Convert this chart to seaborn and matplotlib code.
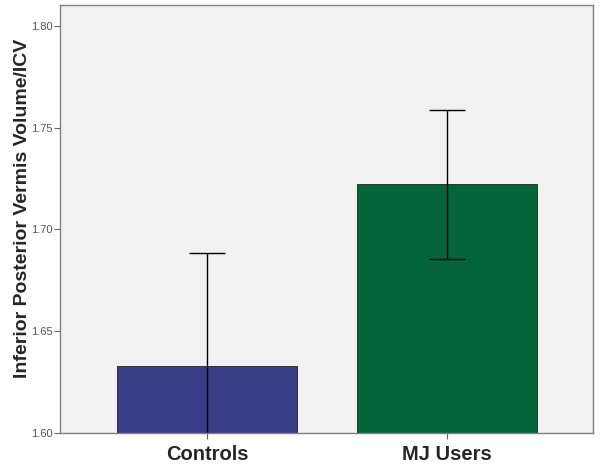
import pandas as pd
import seaborn as sns
import matplotlib.pyplot as plt

# group means and error bar half-widths
groups = ['Controls', 'MJ Users']
means = [1.633, 1.7222]
errors = [0.0552, 0.0366]
bar_colors = ['#393c87', '#05653a']
y_ticks = [1.60, 1.65, 1.70, 1.75, 1.80]


def main():
    sns.set_style('white')
    plt.rcParams['font.family'] = ['Liberation Sans', 'DejaVu Sans']

    df = pd.DataFrame({'group': groups, 'value': means})

    fig = plt.figure(figsize=(6, 4.69), dpi=100)
    ax = fig.add_axes([0.1, 0.077, 0.888, 0.912])
    ax.set_facecolor('#f1f1f1')

    sns.barplot(data=df, x='group', y='value', hue='group',
                palette=bar_colors, saturation=1, errorbar=None, width=0.75,
                edgecolor='#222222', linewidth=0.6, legend=False, ax=ax)
    ax.errorbar(range(len(groups)), means, yerr=errors, fmt='none',
                ecolor='black', elinewidth=1.0, capsize=13, capthick=1.0)

    ax.set_ylim(1.60, 1.8103)
    ax.set_xlim(-0.6125, 1.608)
    ax.set_yticks(y_ticks)
    ax.set_yticklabels(['%.2f' % t for t in y_ticks], fontsize=8,
                       color='#555555')
    ax.set_xticks(range(len(groups)))
    ax.set_xticklabels(groups, fontsize=14.5, fontweight='bold')
    ax.tick_params(axis='both', direction='out', length=4, width=0.8,
                   color='#666666', left=True, bottom=True)
    ax.tick_params(axis='y', pad=1)
    ax.tick_params(axis='x', pad=5)

    for s in ax.spines.values():
        s.set_color('#808080')
        s.set_linewidth(1.0)

    ax.set_xlabel('')
    ax.set_ylabel('Inferior Posterior Vermis Volume/ICV', fontsize=14,
                  fontweight='bold')
    ax.yaxis.set_label_coords(-0.054, 0.526)

    plt.savefig('out.png', dpi=100)


if __name__ == "__main__":
    main()
